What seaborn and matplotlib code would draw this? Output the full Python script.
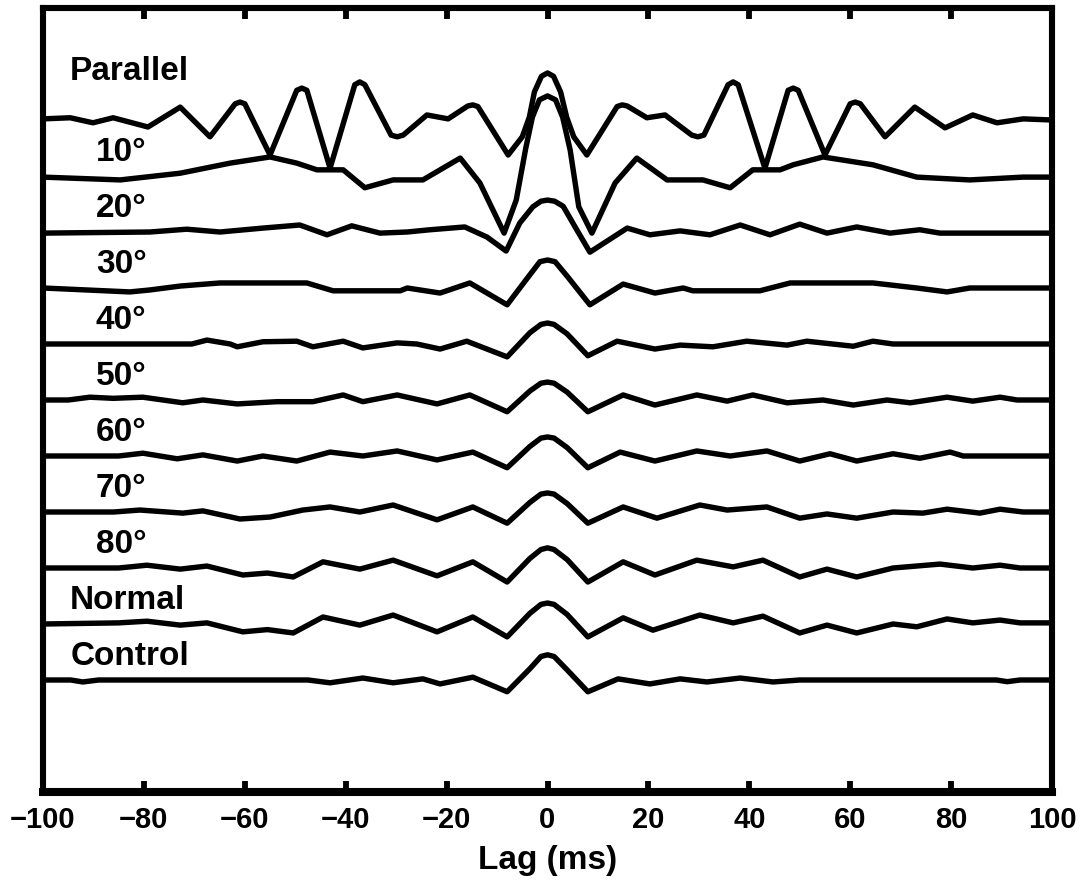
import matplotlib
matplotlib.use("Agg")
import matplotlib.pyplot as plt
import numpy as np
import pandas as pd
import seaborn as sns

# ---------------- data (lag in ms, correlation amplitude in trace-spacing units) -------------
labels = ["Parallel", "10°", "20°", "30°", "40°", "50°", "60°", "70°", "80°", "Normal", "Control"]

parallel_lag = [-100, -94.6, -90.1, -86.1, -79.2, -72.8, -66.9, -61.9, -60.95, -60.0, -55.0, -49.7,
                -48.7, -47.7, -43.1, -38.2, -37.2, -36.2, -31.0, -29.8, -28.6, -23.9, -19.7, -15.8,
                -14.8, -13.8, -7.8, -5.0, -3.6, -2.6, -1.2, 0, 1.2, 2.6, 3.8, 5.2, 7.8, 13.8, 14.8,
                15.8, 19.7, 23.3, 28.6, 29.8, 31.0, 35.8, 36.8, 37.8, 43.1, 47.7, 48.7, 49.7, 55.0,
                60.0, 61.0, 62.0, 66.9, 72.8, 78.8, 84.3, 89.1, 94.3, 100]
parallel_val = [0.02, 0.04, -0.05, 0.04, -0.125, 0.23, -0.30, 0.29, 0.32, 0.29, -0.625, 0.53,
                0.57, 0.53, -0.86, 0.63, 0.68, 0.63, -0.27, -0.30, -0.27, 0.09, 0.02, 0.25,
                0.27, 0.24, -0.625, -0.30, 0.05, 0.50, 0.78, 0.84, 0.78, 0.50, 0.05, -0.30, -0.625, 0.24, 0.27,
                0.25, 0.04, 0.09, -0.27, -0.30, -0.27, 0.63, 0.68, 0.63, -0.86, 0.53, 0.57, 0.53, -0.625,
                0.29, 0.32, 0.29, -0.30, 0.23, -0.14, 0.09, -0.05, 0.02, 0.0]

deg10_lag = [-100, -84.7, -72.8, -62.9, -55.0, -49.7, -45.7, -40.5, -36.2, -30.6, -24.7, -17.3,
             -13.4, -8.6, -6.2, -4.3, -3.0, -1.6, 0, 1.6, 3.0, 4.5, 6.2, 8.8, 13.4, 17.7, 23.7,
             30.8, 36.2, 40.7, 46.1, 48.7, 54.6, 64.5, 73.2, 83.7, 94.3, 100]
deg10_val = [-0.02, -0.07, 0.05, 0.23, 0.34, 0.23, 0.11, 0.11, -0.21, -0.07, -0.07, 0.32,
             -0.125, -1.02, -0.43, 0.50, 1.05, 1.36, 1.43, 1.36, 1.05, 0.46, -0.55, -1.02, -0.125, 0.32, -0.07,
             -0.07, -0.21, 0.11, 0.11, 0.20, 0.34, 0.20, -0.02, -0.07, -0.02, -0.02]

deg20_lag = [-100, -78.8, -71.5, -64.9, -56.4, -49.1, -43.7, -38.8, -33.2, -27.8, -23.3, -16.4,
             -12.0, -8.2, -5.5, -2.9, -1.3, 0, 1.4, 3.1, 5.8, 8.4, 15.8, 20.3, 26.3, 32.2, 38.2,
             44.1, 50.0, 55.4, 61.3, 67.9, 73.8, 77.8, 100]
deg20_val = [-0.02, 0.0, 0.05, 0.0, 0.07, 0.125, -0.05, 0.11, -0.02, 0.0, 0.04, 0.09,
             -0.09, -0.34, 0.16, 0.45, 0.55, 0.57, 0.55, 0.46, 0.04, -0.36, 0.07, -0.05, 0.02, -0.05, 0.125,
             -0.05, 0.14, -0.02, 0.09, -0.02, 0.04, -0.02, -0.02]

deg30_lag = [-100, -82.8, -78.8, -72.8, -64.9, -47.7, -42.5, -29.2, -27.8, -21.3, -15.4, -8.0,
             -3.8, -1.5, 0, 1.5, 4.0, 8.4, 15.0, 21.3, 26.9, 28.8, 42.1, 48.1, 64.5, 73.2, 79.2, 83.7, 100]
deg30_val = [0.0, -0.07, -0.035, 0.035, 0.09, 0.09, -0.05, -0.05, 0.0, -0.09, 0.09, -0.30,
             0.20, 0.47, 0.50, 0.47, 0.20, -0.30, 0.07, -0.09, 0.0, -0.05, -0.05, 0.09, 0.09, 0.0, -0.07, 0.0, 0.0]

deg40_lag = [-100, -70.5, -67.5, -62.9, -61.5, -56.4, -49.7, -46.5, -40.5, -36.6, -29.8, -25.9,
             -21.3, -16.0, -8.0, -3.5, -1.3, 0, 1.3, 3.9, 8.0, 13.8, 21.3, 26.3, 32.8, 39.5, 47.5,
             51.4, 60.6, 64.5, 68.5, 100]
deg40_val = [0.0, 0.0, 0.07, 0.0, -0.05, 0.04, 0.05, -0.05, 0.05, -0.07, 0.02, 0.0,
             -0.09, 0.05, -0.23, 0.20, 0.35, 0.375, 0.35, 0.18, -0.21, 0.05, -0.09, -0.02, -0.05, 0.05, -0.02,
             0.05, -0.04, 0.05, 0.0, 0.0]

deg50_lag = [-100, -95, -90.7, -86.1, -80.2, -72.3, -68.3, -61.5, -53.6, -46.5, -40.5, -36.6,
             -29.8, -21.9, -15.4, -8.0, -3.5, -1.3, 0, 1.3, 3.9, 8.0, 15.0, 21.3, 29.6, 35.6, 40.7,
             47.5, 54.6, 60.6, 67.3, 71.9, 79.2, 84.3, 89.7, 93.1, 100]
deg50_val = [0.0, 0.0, 0.05, 0.03, 0.05, -0.05, 0.0, -0.07, -0.03, -0.03, 0.09, -0.03,
             0.09, -0.07, 0.09, -0.21, 0.16, 0.30, 0.32, 0.30, 0.14, -0.21, 0.09, -0.09, 0.09, -0.02, 0.09,
             -0.05, 0.0, -0.09, 0.0, -0.05, 0.05, -0.02, 0.05, 0.0, 0.0]

deg60_lag = [-100, -85, -80.2, -73.4, -68.3, -61.5, -56.4, -49.7, -43.1, -36.6, -29.8, -21.9,
             -14.8, -8.0, -3.5, -1.3, 0, 1.3, 3.9, 8.0, 14.4, 21.3, 29.6, 36.2, 43.5, 50.0, 56.0,
             61.3, 68.5, 73.8, 79.8, 82.4, 100]
deg60_val = [0.0, 0.0, 0.05, -0.05, 0.02, -0.09, 0.0, -0.09, 0.07, 0.0, 0.09, -0.07,
             0.07, -0.21, 0.17, 0.32, 0.34, 0.32, 0.15, -0.21, 0.07, -0.09, 0.09, 0.0, 0.09, -0.09, 0.04,
             -0.09, 0.04, -0.04, 0.07, 0.0, 0.0]

deg70_lag = [-100, -86, -80.8, -72.3, -68.3, -60.95, -55.0, -48.5, -43.1, -37.2, -30.6, -21.9,
             -14.8, -8.0, -3.5, -1.3, 0, 1.3, 3.9, 8.0, 15.0, 21.7, 30.2, 35.6, 43.5, 50.0, 55.4,
             61.3, 68.5, 74.4, 79.2, 85.7, 89.7, 94.3, 100]
deg70_val = [0.0, 0.0, 0.035, -0.02, 0.02, -0.125, -0.09, 0.035, 0.09, 0.0, 0.125, -0.14,
             0.09, -0.20, 0.17, 0.32, 0.34, 0.32, 0.15, -0.20, 0.09, -0.11, 0.125, 0.035, 0.09, -0.11, -0.035,
             -0.11, 0.0, -0.02, 0.05, -0.02, 0.05, 0.0, 0.0]

deg80_lag = [-100, -85, -79.4, -72.8, -67.5, -60.4, -55.5, -50.4, -44.5, -37.2, -30.6, -21.9,
             -14.8, -8.0, -3.5, -1.3, 0, 1.3, 3.9, 8.0, 15.0, 21.3, 29.6, 36.8, 42.7, 50.0, 55.4,
             61.3, 68.5, 77.8, 84.3, 89.7, 93.7, 100]
deg80_val = [0.0, 0.0, 0.05, -0.02, 0.035, -0.125, -0.09, -0.16, 0.11, -0.02, 0.14, -0.14,
             0.11, -0.25, 0.17, 0.33, 0.36, 0.33, 0.15, -0.25, 0.11, -0.125, 0.14, 0.02, 0.14, -0.16, -0.02,
             -0.16, 0.0, 0.07, 0.0, 0.05, 0.0, 0.0]

normal_lag = [-100, -85, -79.4, -72.8, -67.5, -60.4, -55.5, -50.4, -44.5, -37.2, -30.6, -21.9,
              -14.8, -8.0, -3.5, -1.3, 0, 1.3, 3.9, 8.0, 15.0, 20.9, 30.2, 36.8, 42.7, 50.0, 55.4,
              61.3, 68.5, 73.2, 79.2, 84.3, 89.7, 93.7, 100]
normal_val = [0.0, 0.02, 0.05, -0.02, 0.02, -0.14, -0.10, -0.16, 0.125, -0.02, 0.16, -0.14,
              0.125, -0.23, 0.19, 0.35, 0.375, 0.35, 0.17, -0.23, 0.11, -0.11, 0.16, 0.02, 0.14, -0.16, -0.02,
              -0.16, 0.0, -0.05, 0.09, 0.02, 0.07, 0.02, 0.02]

control_lag = [-100, -94.5, -92.1, -89, -47.5, -43.1, -36.6, -30.6, -24.7, -21.3, -14.8, -8.0,
               -3.5, -1.3, 0, 1.3, 3.9, 8.0, 14.0, 20.3, 26.3, 31.6, 38.2, 44.7, 50.0, 89, 91.1, 93.7, 100]
control_val = [0.0, 0.0, -0.035, 0.0, 0.0, -0.05, 0.035, -0.05, 0.02, -0.07, 0.05, -0.21,
               0.20, 0.42, 0.45, 0.42, 0.18, -0.21, 0.02, -0.07, 0.02, -0.035, 0.035, -0.035, 0.0, 0.0, -0.03, 0.0, 0.0]

xticks = [-100, -80, -60, -40, -20, 0, 20, 40, 60, 80, 100]
xlabel = "Lag (ms)"

series = [
    (parallel_lag, parallel_val), (deg10_lag, deg10_val), (deg20_lag, deg20_val),
    (deg30_lag, deg30_val), (deg40_lag, deg40_val), (deg50_lag, deg50_val),
    (deg60_lag, deg60_val), (deg70_lag, deg70_val), (deg80_lag, deg80_val),
    (normal_lag, normal_val), (control_lag, control_val),
]
for lab, (a, b) in zip(labels, series):
    assert len(a) == len(b), (lab, len(a), len(b))

# ---------------- layout -----------------------------------------------------------------------
n = len(labels)
offsets = {lab: (n + 1) - i for i, lab in enumerate(labels)}   # Parallel at 12 ... Control at 2

rows = []
for lab, (lags, vals) in zip(labels, series):
    for x, v in zip(lags, vals):
        rows.append({"trace": lab, "lag": x, "y": offsets[lab] + v})
df = pd.DataFrame(rows)

sns.set_theme(style="white")
plt.rcParams["font.family"] = ["Liberation Sans", "DejaVu Sans"]
plt.rcParams["font.weight"] = "bold"
plt.rcParams["text.color"] = "black"
plt.rcParams["axes.labelcolor"] = "black"
plt.rcParams["xtick.color"] = "black"

fig = plt.figure(figsize=(10.88, 8.86), dpi=100)
ax = fig.add_axes([43 / 1088, 1 - 792 / 886, (1052 - 43) / 1088, (792 - 8) / 886])

sns.lineplot(data=df, x="lag", y="y", units="trace", estimator=None, color="black",
             linewidth=3.9, legend=False, ax=ax)
for ln in ax.get_lines():
    ln.set_solid_joinstyle("round")
    ln.set_solid_capstyle("butt")

ax.set_xlim(-100, 100)
ax.set_ylim(0, 14)
ax.set_yticks([])
ax.set_xticks(xticks)
ax.set_xticklabels([str(t).replace("-", "\u2212") for t in xticks],
                   fontsize=21, fontweight="bold", color="black")
ax.tick_params(axis="x", direction="in", length=8, width=4.2, top=True, bottom=True,
               pad=10, color="black", labelcolor="black")
ax.set_xlabel(xlabel, fontsize=24, fontweight="bold", labelpad=8, color="black")
ax.set_ylabel("")

for side in ["left", "right", "top"]:
    ax.spines[side].set_linewidth(4.4)
    ax.spines[side].set_color("black")
ax.spines["bottom"].set_linewidth(5.8)
ax.spines["bottom"].set_color("black")

# trace labels
label_x = {lab: (-94.6 if lab in ("Parallel", "Normal", "Control") else -89.5) for lab in labels}
for lab in labels:
    dy = 0.71 if lab == "Parallel" else 0.27
    ax.text(label_x[lab], offsets[lab] + dy, lab, fontsize=24, fontweight="bold",
            ha="left", va="baseline", color="black")

fig.savefig("out.png", dpi=100, facecolor="white")
